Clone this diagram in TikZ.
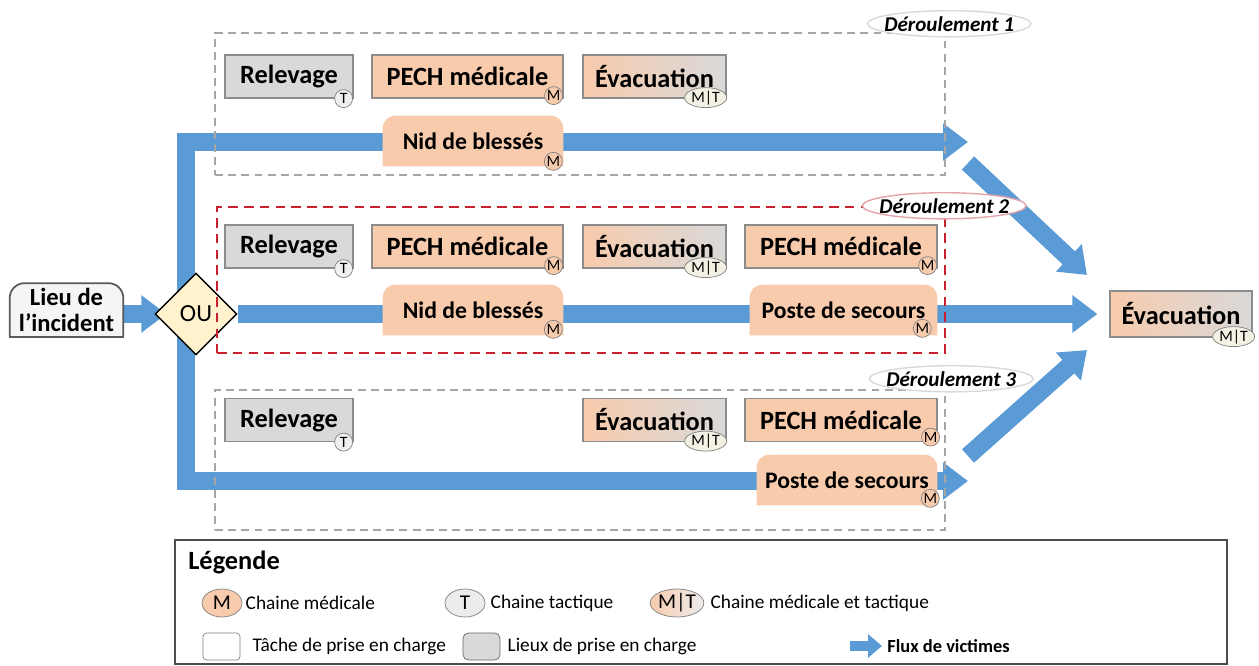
\documentclass[tikz,border=0pt]{standalone}
\usepackage{fontspec}
\setmainfont{Carlito}
\usepackage{tikz}
\usetikzlibrary{arrows.meta, positioning, fit, shapes.geometric, backgrounds}

\definecolor{bleuflux}{HTML}{5B9BD5}
\definecolor{peche}{HTML}{F8CBAD}
\definecolor{gris}{HTML}{D9D9D9}
\definecolor{bord}{HTML}{8C8C8C}
\definecolor{cadregris}{HTML}{A6A6A6}
\definecolor{cadrerouge}{HTML}{C8202C}
\definecolor{rosec}{HTML}{E3A3AB}
\definecolor{losange}{HTML}{FFF2CC}
\definecolor{creme}{HTML}{F3F1E3}

\begin{document}
\begin{tikzpicture}[x=0.02cm, y=-0.02cm, line join=miter,
    >={Triangle[length=0.5cm, width=0.72cm]},
    tache/.style={draw=bord, line width=0.7pt, minimum height=0.86cm, inner sep=1pt,
        font=\bfseries\fontsize{15}{18}\selectfont},
    med/.style={tache, fill=peche},
    tac/.style={tache, fill=gris},
    mixte/.style={tache, left color=peche, right color=gris},
    lieu/.style={minimum height=1cm, inner sep=1pt, font=\bfseries\fontsize{13.5}{16}\selectfont},
    bm/.style={circle, draw=gray, fill=peche, inner sep=0pt, minimum size=0.36cm,
        font=\fontsize{9}{9}\selectfont},
    bt/.style={bm, fill=gray!12},
    bmt/.style={ellipse, draw=gray, fill=creme, inner sep=0pt, minimum width=0.84cm,
        minimum height=0.4cm, font=\fontsize{9}{9}\selectfont},
    cadre/.style={draw=cadregris, line width=1.4pt, dash pattern=on 4.5pt off 3pt, inner sep=0pt},
    etiq/.style={ellipse, draw=gris, fill=white, line width=0.8pt, inner xsep=-4pt, inner ysep=1pt,
        font=\bfseries\itshape\fontsize{12}{14}\selectfont},
    flux/.style={draw=bleuflux, line width=0.36cm, ->},
    pastille/.style={ellipse, draw=gray, inner sep=0pt, minimum width=0.8cm, minimum height=0.56cm,
        font=\fontsize{12}{12}\selectfont},
    legtxt/.style={inner sep=0pt, font=\fontsize{11}{13}\selectfont}]

\useasboundingbox (0,0) rectangle (1259,666);

% depart et aiguillage
\node[lieu, minimum width=2.26cm, minimum height=1.06cm, align=center,
    font=\bfseries\fontsize{14}{15}\selectfont] (incident) at (66.5,310) {Lieu de\\l’incident};
\node[diamond, draw, fill=losange, line width=0.8pt, minimum width=1.64cm, minimum height=1.64cm,
    inner sep=0pt, font=\fontsize{14}{14}\selectfont] (ou) at (196,314) {OU};
\node[mixte, minimum width=2.84cm, minimum height=0.92cm] (evacfin) at (1181,314) {Évacuation};

% deroulements
\node[cadre, fit={(215,33) (945,175)}] (dr1) {};
\node[cadre, draw=cadrerouge, dash pattern=on 5.5pt off 3.5pt, fit={(217,207) (945,353)}] (dr2) {};
\node[cadre, fit={(215,390) (945,530)}] (dr3) {};
\node[etiq] (lab1) at ([shift={(0.06cm,0.16cm)}]dr1.north east) {Déroulement 1};
\node[etiq, draw=rosec] (lab2) at ([xshift=-0.04cm]dr2.north east) {Déroulement 2};
\node[etiq] (lab3) at ([shift={(0.1cm,0.2cm)}]dr3.north east) {Déroulement 3};

\node[tac, minimum width=2.56cm] (rel1) at (289,76.5) {Relevage};
\node[med, minimum width=3.82cm] (pech1) at (467.5,76.5) {PECH médicale};
\node[mixte, minimum width=2.86cm] (evac1) at (654.5,76.5) {Évacuation};
\node[lieu, minimum width=3.6cm] (nid1) at (473,141) {Nid de blessés};

\node[tac, minimum width=2.56cm] (rel2) at (289,246.5) {Relevage};
\node[med, minimum width=3.82cm] (pech2) at (467.5,246.5) {PECH médicale};
\node[mixte, minimum width=2.86cm] (evac2) at (654.5,246.5) {Évacuation};
\node[med, minimum width=3.84cm] (pechb2) at (841,246.5) {PECH médicale};
\node[lieu, minimum width=3.6cm] (nid2) at (473,310) {Nid de blessés};
\node[lieu, minimum width=3.74cm] (poste2) at (843.5,310) {Poste de secours};

\node[tac, minimum width=2.56cm] (rel3) at (289,420) {Relevage};
\node[mixte, minimum width=2.86cm] (evac3) at (654.5,420) {Évacuation};
\node[med, minimum width=3.84cm] (pech3) at (841,420) {PECH médicale};
\node[lieu, minimum width=3.6cm] (poste3) at (847,480) {Poste de secours};

\coordinate (f1) at (968,142);
\coordinate (f3) at (968,481);
\coordinate (d1a) at (968,163);
\coordinate (d1b) at (1087,275);
\coordinate (d3a) at (968,456);
\coordinate (d3b) at (1087,350);

\begin{scope}[on background layer]
  \draw[flux, shorten >=-0.24cm] (incident.east |- ou.west) -- (ou.west);
  \draw[flux, shorten >=0.24cm] (ou.east) -- (evacfin.west);
  \draw[flux, <->] (f1) -- (186,142) -- (186,481) -- (f3);
  \draw[flux] (d1a) -- (d1b);
  \draw[flux] (d3a) -- (d3b);
  \foreach \p in {nid1, nid2, poste2, poste3}
    \fill[peche, rounded corners=0.25cm] (\p.south west) -- (\p.north west) -- (\p.north east) -- (\p.south east);
  \filldraw[fill=gray!8, draw=black!65, line width=1pt, rounded corners=0.3cm]
    (incident.south west) -- (incident.north west) -- (incident.north east) -- (incident.south east);
  \draw[black!65, line width=1pt, line cap=rect] (incident.south west) -- (incident.south east);
\end{scope}

% pastilles
\node[bt] (t1) at ([xshift=-0.2cm]rel1.south east) {T};
\node[bm] (m1) at ([shift={(-0.2cm,0.06cm)}]pech1.south east) {M};
\node[bmt] (mt1) at ([shift={(-0.42cm,0.02cm)}]evac1.south east) {M|T};
\node[bm] (m2) at ([shift={(-0.2cm,0.1cm)}]nid1.south east) {M};
\node[bt] (t2) at ([xshift=-0.2cm]rel2.south east) {T};
\node[bm] (m3) at ([shift={(-0.2cm,0.06cm)}]pech2.south east) {M};
\node[bmt] (mt2) at ([shift={(-0.42cm,0.02cm)}]evac2.south east) {M|T};
\node[bm] (m4) at ([shift={(-0.2cm,0.06cm)}]pechb2.south east) {M};
\node[bm] (m5) at ([shift={(-0.2cm,0.12cm)}]nid2.south east) {M};
\node[bm] (m6) at ([shift={(-0.3cm,0.14cm)}]poste2.south east) {M};
\node[bt] (t3) at ([xshift=-0.2cm]rel3.south east) {T};
\node[bmt] (mt3) at ([shift={(-0.42cm,0.02cm)}]evac3.south east) {M|T};
\node[bm] (m7) at ([shift={(-0.14cm,0.1cm)}]pech3.south east) {M};
\node[bm] (m8) at ([shift={(-0.14cm,0.14cm)}]poste3.south east) {M};
\node[bmt] (mt4) at ([shift={(-0.38cm,0.02cm)}]evacfin.south east) {M|T};

% legende
\node[draw=black!70, line width=1pt, inner sep=0pt, fit={(175,540) (1227,664)}] (leg) {};
\node[anchor=west, inner sep=0pt, font=\bfseries\fontsize{15}{18}\selectfont] (titre) at (188,562) {Légende};
\node[pastille, fill=peche] (lm) at (222,603) {M};
\node[legtxt, right=0.06cm of lm] (lt1) {Chaine médicale};
\node[pastille, fill=gray!15] (lt) at (465,603) {T};
\node[legtxt, right=0.1cm of lt] (lt2) {Chaine tactique};
\node[pastille, left color=peche, right color=gray!15] (lmt) at (677,603) {M|T};
\node[legtxt, right=0.12cm of lmt] (lt3) {Chaine médicale et tactique};
\node[draw=gray, rounded corners=2pt, minimum width=0.74cm, minimum height=0.54cm] (carre1) at (221.5,646.5) {};
\node[legtxt, right=0.24cm of carre1] (lt4) {Tâche de prise en charge};
\node[draw=black!60, fill=gris, rounded corners=3pt, minimum width=0.74cm, minimum height=0.54cm] (carre2) at (481.5,646.5) {};
\node[legtxt, right=0.14cm of carre2] (lt5) {Lieux de prise en charge};
\coordinate (fa) at (850,646);
\coordinate (fb) at (882,646);
\draw[bleuflux, line width=0.2cm, -{Triangle[length=0.28cm, width=0.46cm]}] (fa) -- (fb);
\node[legtxt, font=\bfseries\fontsize{10.5}{13}\selectfont, right=0.1cm of fb] (lt6) {Flux de victimes};
\end{tikzpicture}
\end{document}
